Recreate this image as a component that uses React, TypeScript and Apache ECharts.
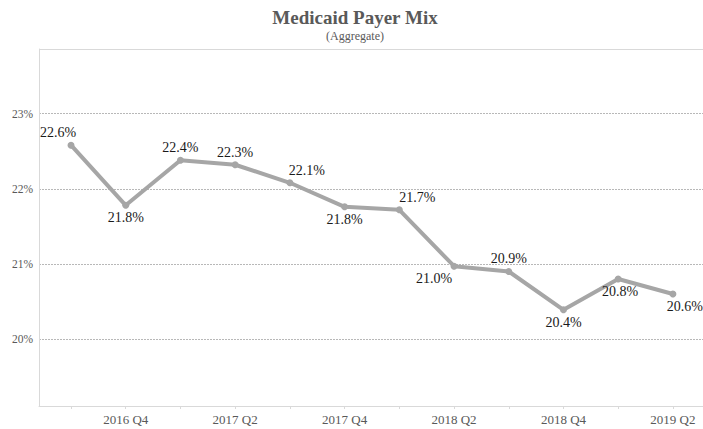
import React, { useEffect, useRef } from "react";
import * as echarts from "echarts";

const categories = [
  "2016 Q3", "2016 Q4", "2017 Q1", "2017 Q2", "2017 Q3", "2017 Q4",
  "2018 Q1", "2018 Q2", "2018 Q3", "2018 Q4", "2019 Q1", "2019 Q2",
];
const medicaidShare = [22.58, 21.78, 22.38, 22.32, 22.08, 21.76, 21.72, 20.97, 20.9, 20.39, 20.8, 20.6];
const yTicks = [20, 21, 22, 23];
const xLabelIdx = [1, 3, 5, 7, 9, 11];
const labelPlacement: [string, number][] = [
  ["top", -13], ["bottom", 0], ["top", 0], ["top", 0], ["top", 17], ["bottom", 0],
  ["top", 18], ["bottom", -20], ["top", 0], ["bottom", 0], ["bottom", 2], ["bottom", 12],
];

const SERIF = "Liberation Serif";

export default function App() {
  const ref = useRef<HTMLDivElement>(null);
  useEffect(() => {
    if (!ref.current) return;
    const chart = echarts.init(ref.current, undefined, { renderer: "svg" });
    const data = medicaidShare.map((v, i) => ({
      value: [i, v],
      label: { position: labelPlacement[i][0], offset: [labelPlacement[i][1], 0] },
    }));
    chart.setOption({
      animation: false,
      backgroundColor: "#ffffff",
      textStyle: { fontFamily: SERIF },
      grid: { left: 39, right: 0, top: 49, bottom: 23, containLabel: false },
      graphic: [
        {
          type: "text", x: 355, y: 17,
          style: { text: "Medicaid Payer Mix", fill: "#595959", fontWeight: "bold", fontSize: 19, fontFamily: SERIF, textAlign: "center", textVerticalAlign: "middle" },
        },
        {
          type: "text", x: 355, y: 36,
          style: { text: "(Aggregate)", fill: "#595959", fontSize: 12, fontFamily: SERIF, textAlign: "center", textVerticalAlign: "middle" },
        },
        {
          type: "line", shape: { x1: 39, y1: 49.5, x2: 703, y2: 49.5 },
          style: { stroke: "#d9d9d9", lineWidth: 1 },
        },
      ],
      xAxis: {
        type: "value",
        min: -0.585,
        max: 11.55,
        axisLine: { show: true, onZero: false, lineStyle: { color: "#d9d9d9" } },
        axisTick: { show: true, length: 3, customValues: categories.map((_, i) => i), lineStyle: { color: "#d9d9d9" } },
        axisLabel: {
          customValues: xLabelIdx,
          formatter: (v: number) => categories[Math.round(v)],
          color: "#595959", fontSize: 13, fontFamily: SERIF, margin: 7,
        },
        splitLine: { show: false },
      },
      yAxis: {
        type: "value",
        min: 19.11,
        max: 23.86,
        axisLine: { show: true, onZero: false, lineStyle: { color: "#d9d9d9" } },
        axisTick: { show: false, customValues: yTicks },
        axisLabel: {
          customValues: yTicks,
          formatter: (v: number) => `${Math.round(v)}%`,
          color: "#595959", fontSize: 11.5, fontFamily: SERIF, margin: 6,
        },
        splitLine: { show: true, lineStyle: { color: "#b8b8b8", type: [2, 1], width: 1 } },
      },
      series: [
        {
          type: "line",
          data,
          symbol: "circle",
          symbolSize: 7,
          lineStyle: { color: "#a6a6a6", width: 4 },
          itemStyle: { color: "#a6a6a6" },
          label: {
            show: true,
            distance: 2,
            color: "#1a1a1a",
            fontSize: 14,
            fontFamily: SERIF,
            formatter: (p: any) => `${p.value[1].toFixed(1)}%`,
          },
        },
      ],
    });
    return () => chart.dispose();
  }, []);
  return <div ref={ref} style={{ position: "fixed", left: 0, top: 0, width: 703, height: 429 }} />;
}
